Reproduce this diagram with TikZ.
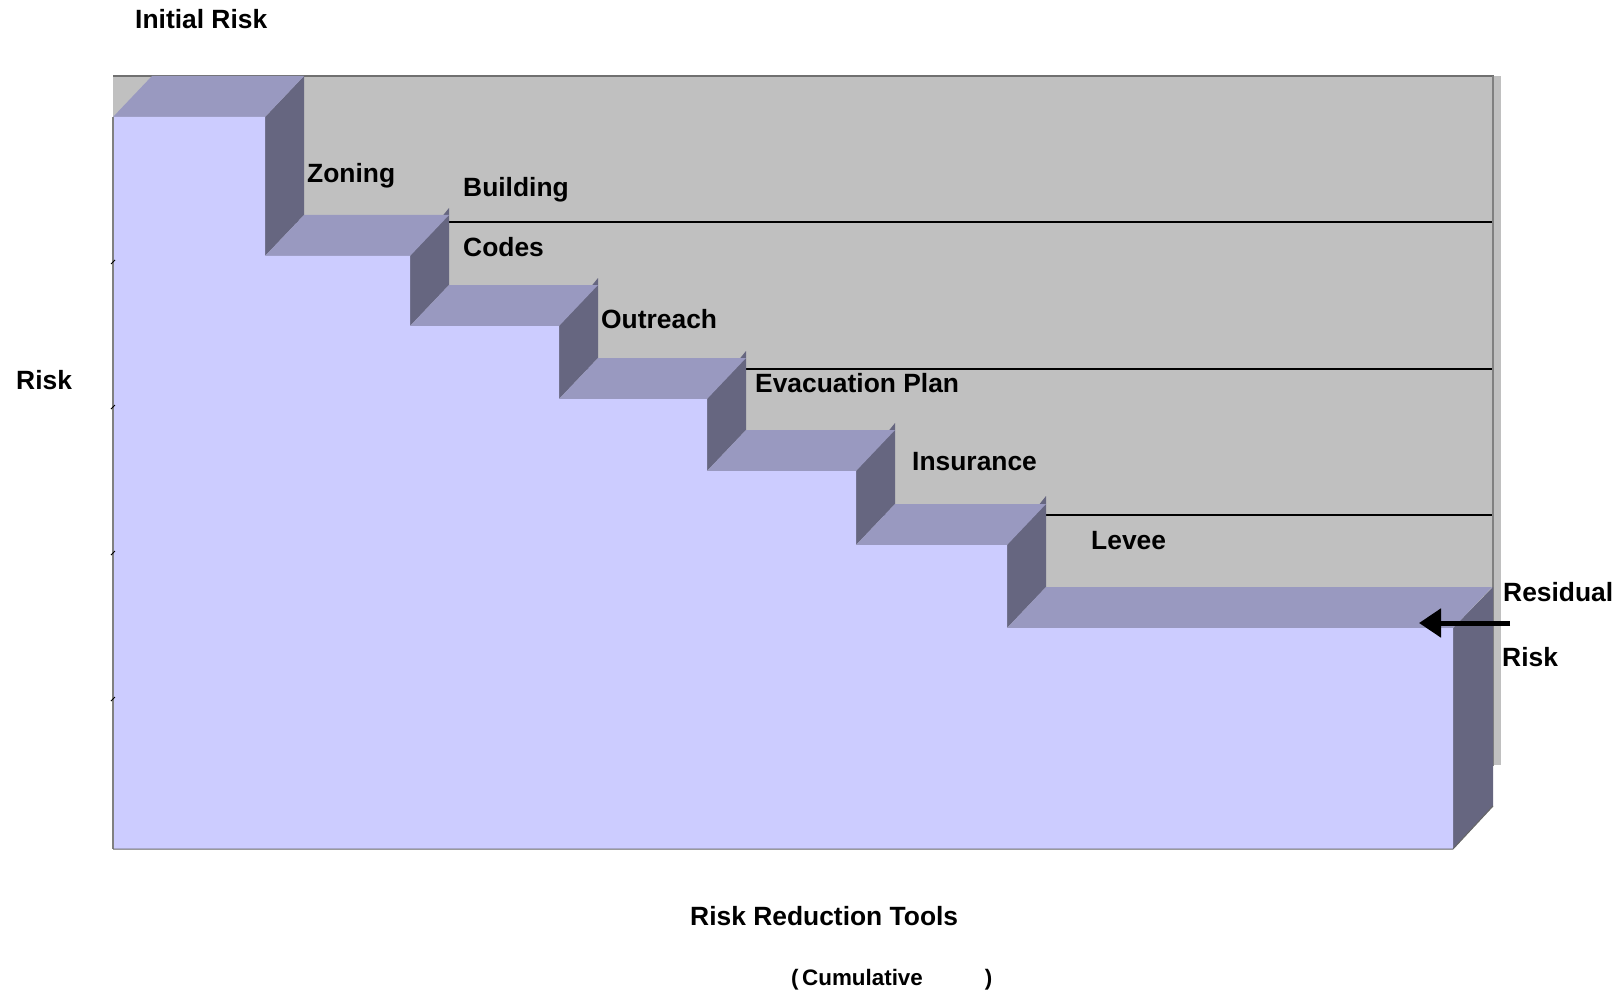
\documentclass[tikz,border=0pt]{standalone}
\usepackage{fontspec}
\setmainfont{Liberation Sans}
\usetikzlibrary{arrows.meta}
\definecolor{frontc}{RGB}{204,204,255}
\definecolor{topc}{RGB}{153,153,192}
\definecolor{sidec}{RGB}{102,102,128}
\definecolor{wallc}{RGB}{192,192,192}
\definecolor{edgec}{RGB}{112,112,112}
\begin{document}
\begin{tikzpicture}[x=1pt,y=-1pt,
  lab/.style={anchor=base west, inner sep=0pt, font=\fontsize{26.4}{30}\selectfont\bfseries},
  smalllab/.style={anchor=base west, inner sep=0pt, font=\fontsize{22.4}{26}\selectfont\bfseries},
  gridln/.style={black, line width=1.4pt},
  sideface/.style={fill=sidec},
  topface/.style={fill=topc}]
\useasboundingbox (0,0) rectangle (1621,992);
% back wall
\fill[wallc] (113,76) rectangle (1493,766);
\fill[wallc] (1493,76) rectangle (1501,765);
\draw[gridln] (152,222) -- (1493,222);
\draw[gridln] (152,369) -- (1493,369);
\draw[gridln] (152,515) -- (1493,515);
\draw[edgec, line width=2pt] (113,76) -- (1494,76);
\draw[gray, line width=1.2pt] (1493,76) -- (1493,766);
% side faces
\foreach \x/\ya/\yb/\pk in {265/117/256/0, 410/256/326/7, 559/326/399/7, 707/399/471/7, 856/471/545/7, 1007/545/628/8}
  \fill[sideface] (\x,\ya) -- (\x+39,\ya-41-\pk) -- (\x+39,\yb-41) -- (\x,\yb) -- cycle;
\fill[sideface] (1453,628) -- (1493,587) -- (1493,806) -- (1453,849) -- cycle;
% top faces
\foreach \xa/\xb/\y in {113/265/117, 265/410/256, 410/559/326, 559/707/399, 707/856/471, 856/1007/545, 1007/1453/628}
  \fill[topface] (\xa,\y) -- (\xa+39,\y-41) -- (\xb+39,\y-41) -- (\xb,\y) -- cycle;
% front
\fill[frontc] (113,117) -- (265,117) -- (265,256) -- (410,256) -- (410,326) -- (559,326)
  -- (559,399) -- (707,399) -- (707,471) -- (856,471) -- (856,545) -- (1007,545)
  -- (1007,628) -- (1453,628) -- (1453,849) -- (113,849) -- cycle;
\draw[gray, line width=2pt] (113,117) -- (113,849);
\draw[gray!80!black, line width=1pt] (113,849) -- (1453,849) -- (1493,806);
\foreach \y in {262,407,553,699}
  \draw[black, line width=0.8pt] (111,\y+2) -- (115,\y-2);
% arrow
\coordinate (atail) at (1510,623);
\coordinate (ahead) at (1419,623);
\draw[line width=5pt, -{Triangle[length=22pt,width=28pt]}] (atail) -- (ahead);
% labels
\node[lab] (initial) at (135,29) {Initial Risk};
\node[lab] (zoning) at (307,183) {Zoning};
\node[lab] (building) at (463,197) {Building};
\node[lab] (codes) at (463,257) {Codes};
\node[lab] (outreach) at (601,328) {Outreach};
\node[lab] (evac) at (755,392) {Evacuation Plan};
\node[lab] (insurance) at (912,470) {Insurance};
\node[lab] (levee) at (1091,549) {Levee};
\node[lab] (residual) at (1503,601) {Residual};
\node[lab] (riskr) at (1502,666) {Risk};
\node[lab] (riskl) at (16,389) {Risk};
\node[lab] (xtitle) at (690,925) {Risk Reduction Tools};
\node[smalllab] (cumul) at (791,985) {(\hspace{3.5pt}Cumulative\hspace{62pt})};
\end{tikzpicture}
\end{document}
